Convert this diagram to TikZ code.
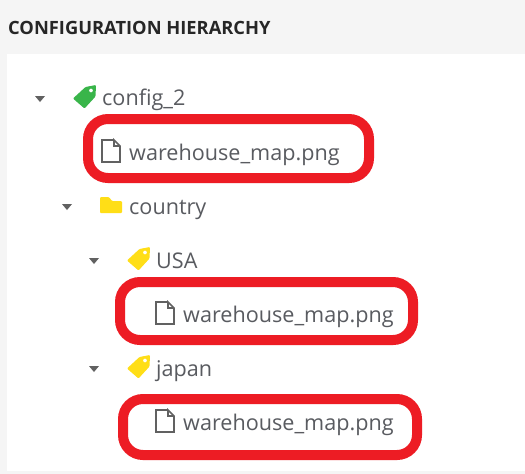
\documentclass[tikz,border=0pt]{standalone}
\usepackage{fontspec}
\setmainfont{Open Sans}
\definecolor{pagegray}{HTML}{F5F5F5}
\definecolor{textgray}{HTML}{595B60}
\definecolor{arrowgray}{HTML}{616161}
\definecolor{markred}{HTML}{ED1C24}
\definecolor{taggreen}{HTML}{39B54A}
\definecolor{tagyellow}{HTML}{FFDE17}
\tikzset{
  entry/.style={anchor=base west, inner sep=0pt, text=textgray, font=\fontsize{21.6}{26}\selectfont},
  heading/.style={anchor=base west, inner sep=0pt, text=black!85, font=\fontsize{18.3}{22}\selectfont\bfseries},
  markbox/.style={draw=markred, line width=10pt, rounded corners=20pt},
  toggle/.style={fill=arrowgray},
  fileicon/.style={draw=arrowgray, line width=1.6pt, line join=miter}
}
\newcommand{\MyToggle}[2]{\fill[toggle] (#1-5,#2-3) -- (#1+5,#2-3) -- (#1,#2+3) -- cycle;}
\newcommand{\MyFile}[2]{
\draw[fileicon] (#1+12,#2) -- (#1,#2) -- (#1,#2+22) -- (#1+18,#2+22) -- (#1+18,#2+6) -- (#1+12,#2) -- (#1+12,#2+6) -- (#1+18,#2+6);
}
\newcommand{\MyTag}[3]{
\begin{scope}[shift={(#2,#3)}]
\fill[#1, even odd rule, rounded corners=1pt] (-11.5,2) -- (1,-9.5) -- (11.5,-11.5) -- (11,0) -- (0,12) -- cycle
  (6.5,-6) circle [radius=2];
\end{scope}
}
\begin{document}
\begin{tikzpicture}[x=1pt,y=-1pt]
\useasboundingbox (0,0) rectangle (525,474);
\fill[pagegray] (0,0) rectangle (525,474);
\fill[white] (7,54) rectangle (525,471);

\node[heading] (title) at (8,34.5) {CONFIGURATION HIERARCHY};

\MyToggle{40}{99}
\MyTag{taggreen}{84.5}{96.5}
\node[entry] (config) at (102,105) {config\_2};

\draw[markbox] (88,119) rectangle (369,178);
\MyFile{102}{140}
\node[entry] (filea) at (129,160) {warehouse\_map.png};

\MyToggle{67}{207}
\fill[tagyellow, rounded corners=1pt] (100,213) -- (100,197) -- (109,197) -- (112,201) -- (122,201) -- (122,213) -- cycle;
\node[entry] (country) at (129,214) {country};

\MyToggle{94}{261}
\MyTag{tagyellow}{138.5}{258.5}
\node[entry] (usa) at (156,268) {USA};

\draw[markbox] (120,282) rectangle (413,340);
\MyFile{156}{302}
\node[entry] (fileb) at (183,322) {warehouse\_map.png};

\MyToggle{94}{369}
\MyTag{tagyellow}{138.5}{366.5}
\node[entry] (japan) at (156,376) {japan};

\draw[markbox] (123,399) rectangle (417,455);
\MyFile{156}{410}
\node[entry] (filec) at (183,430) {warehouse\_map.png};

\end{tikzpicture}
\end{document}
